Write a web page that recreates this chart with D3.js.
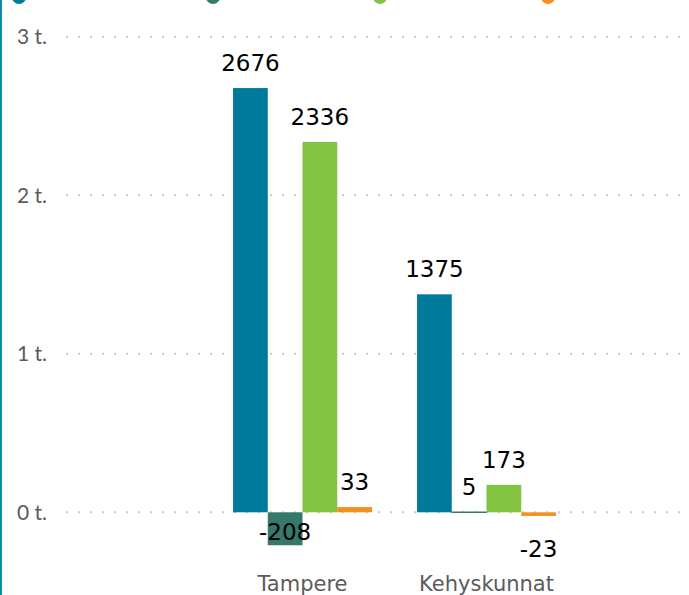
<!DOCTYPE html>
<html>
<head>
<meta charset="utf-8">
<script src="https://cdn.jsdelivr.net/npm/d3@7"></script>
<style>
  body { margin: 0; background: #fff; }
  svg { display: block; font-family: "DejaVu Sans", sans-serif; }
</style>
</head>
<body>
<div id="chart"></div>
<script>
// data
const categories = ["Tampere", "Kehyskunnat"];
const seriesColors = ["#007a9b", "#36786a", "#82c341", "#f39020"];
const series1 = [2676, 1375];
const series2 = [-208, 5];
const series3 = [2336, 173];
const series4 = [33, -23];
const yTicks = [0, 1000, 2000, 3000];
const yTickLabels = ["0 t.", "1 t.", "2 t.", "3 t."];

const allSeries = [series1, series2, series3, series4];

const width = 689, height = 595;
const plotBottom = 565;

const svg = d3.select("#chart")
  .append("svg")
  .attr("width", width)
  .attr("height", height);

// left border of the container
svg.append("rect")
  .attr("x", 0).attr("y", 0)
  .attr("width", 2).attr("height", height)
  .attr("fill", "#1287ae");

// scales
const y = d3.scaleLinear()
  .domain([0, 3000])
  .range([512.3, 36.7]);

const x = d3.scaleBand()
  .domain(categories)
  .range([210.5, 578.5])
  .paddingInner(0.245)
  .paddingOuter(0.1225);

const xSub = d3.scaleBand()
  .domain(d3.range(allSeries.length))
  .range([0, x.bandwidth()]);

// grid lines (dotted)
svg.append("g")
  .selectAll("line")
  .data(yTicks)
  .join("line")
  .attr("x1", 66)
  .attr("x2", 686)
  .attr("y1", d => y(d))
  .attr("y2", d => y(d))
  .attr("stroke", "#c9c9c9")
  .attr("stroke-width", 2)
  .attr("stroke-dasharray", "2,10");

// y axis labels
svg.append("g")
  .selectAll("text")
  .data(yTicks)
  .join("text")
  .attr("x", 47)
  .attr("y", d => y(d))
  .attr("dy", "0.36em")
  .attr("text-anchor", "end")
  .attr("fill", "#5b5b5b")
  .style("font-family", "Lato, sans-serif")
  .style("font-size", "21px")
  .text((d, i) => yTickLabels[i]);

// bars
const groups = svg.append("g")
  .selectAll("g")
  .data(categories)
  .join("g")
  .attr("transform", d => `translate(${x(d)},0)`);

groups.selectAll("rect")
  .data((c, ci) => allSeries.map((s, si) => ({ value: s[ci], si })))
  .join("rect")
  .attr("x", d => xSub(d.si))
  .attr("width", xSub.bandwidth())
  .attr("y", d => Math.min(y(d.value), y(0)))
  .attr("height", d => Math.max(1.5, Math.abs(y(d.value) - y(0))))
  .attr("fill", d => seriesColors[d.si]);

// value labels; negative ones go below the bar, or inside if there is no room
groups.selectAll("text")
  .data((c, ci) => allSeries.map((s, si) => ({ value: s[ci], si })))
  .join("text")
  .attr("x", d => xSub(d.si) + xSub.bandwidth() / 2)
  .attr("y", d => {
    if (d.value >= 0) return y(d.value) - 17;
    const below = y(d.value) + 41;
    return below > plotBottom ? y(d.value) - 5 : below;
  })
  .attr("text-anchor", "middle")
  .attr("fill", "#000")
  .style("font-size", "23px")
  .text(d => d.value);

// category labels
svg.append("g")
  .selectAll("text")
  .data(categories)
  .join("text")
  .attr("x", d => x(d) + x.bandwidth() / 2)
  .attr("y", 591)
  .attr("text-anchor", "middle")
  .attr("fill", "#5b5b5b")
  .style("font-size", "21px")
  .text(d => d);

// legend markers (cut off at the top edge)
const legendX = [19, 213, 380, 548];
svg.append("g")
  .selectAll("circle")
  .data(seriesColors)
  .join("circle")
  .attr("cx", (d, i) => legendX[i])
  .attr("cy", -3)
  .attr("r", 7)
  .attr("fill", d => d);
</script>
</body>
</html>
